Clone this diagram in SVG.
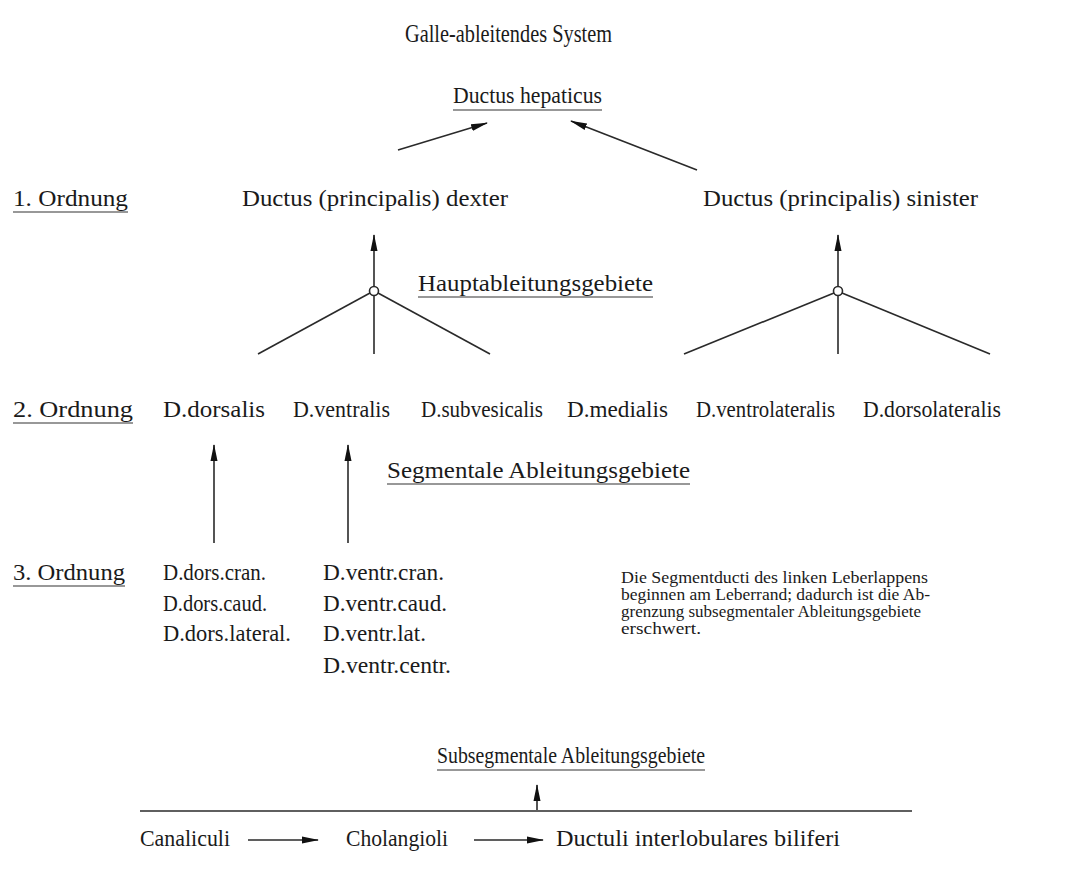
<svg xmlns="http://www.w3.org/2000/svg" width="1091" height="870" viewBox="0 0 1091 870">
<style>
text{font-family:"Liberation Serif","Times New Roman",serif;fill:#1a1a1a;font-size:24px}
.t{font-size:25px}
.s{font-size:23px}
.p{font-size:17.5px}
.u{stroke:#333;stroke-width:1.2}
.c{stroke:#2a2a2a;stroke-width:1.6;fill:none}
</style>
<defs>
<marker id="ah" markerWidth="17" markerHeight="9" refX="16" refY="4.5" orient="auto" markerUnits="userSpaceOnUse">
<path d="M0,1 L17,4.5 L0,8 z" fill="#111"/>
</marker>
</defs>
<rect width="1091" height="870" fill="#fff"/>
<g id="title"><text class="t" x="405" y="42" textLength="207" lengthAdjust="spacingAndGlyphs">Galle-ableitendes System</text></g>
<g id="hepaticus"><text x="453" y="103" textLength="149" lengthAdjust="spacingAndGlyphs">Ductus hepaticus</text><line class="u" x1="453" y1="110" x2="602" y2="110"/></g>
<g id="ord1"><text x="13" y="206" textLength="115" lengthAdjust="spacingAndGlyphs">1. Ordnung</text><line class="u" x1="13" y1="212" x2="128" y2="212"/></g>
<g id="dexter"><text x="242" y="206" textLength="266" lengthAdjust="spacingAndGlyphs">Ductus (principalis) dexter</text></g>
<g id="sinister"><text x="703" y="206" textLength="275" lengthAdjust="spacingAndGlyphs">Ductus (principalis) sinister</text></g>
<g id="haupt"><text x="418" y="291" textLength="235" lengthAdjust="spacingAndGlyphs">Hauptableitungsgebiete</text><line class="u" x1="418" y1="297" x2="653" y2="297"/></g>
<g id="ord2"><text x="13" y="417" textLength="120" lengthAdjust="spacingAndGlyphs">2. Ordnung</text><line class="u" x1="13" y1="423" x2="133" y2="423"/></g>
<g id="dorsalis"><text x="163" y="417" textLength="102" lengthAdjust="spacingAndGlyphs">D.dorsalis</text></g>
<g id="ventralis"><text x="293" y="417" textLength="97" lengthAdjust="spacingAndGlyphs">D.ventralis</text></g>
<g id="subvesicalis"><text x="421" y="417" textLength="122" lengthAdjust="spacingAndGlyphs">D.subvesicalis</text></g>
<g id="medialis"><text x="567" y="417" textLength="101" lengthAdjust="spacingAndGlyphs">D.medialis</text></g>
<g id="ventrolateralis"><text x="696" y="417" textLength="139" lengthAdjust="spacingAndGlyphs">D.ventrolateralis</text></g>
<g id="dorsolateralis"><text x="863" y="417" textLength="138" lengthAdjust="spacingAndGlyphs">D.dorsolateralis</text></g>
<g id="segmental"><text x="387" y="478" textLength="303" lengthAdjust="spacingAndGlyphs">Segmentale Ableitungsgebiete</text><line class="u" x1="387" y1="484" x2="690" y2="484"/></g>
<g id="ord3"><text x="13" y="580" textLength="112" lengthAdjust="spacingAndGlyphs">3. Ordnung</text><line class="u" x1="13" y1="586" x2="125" y2="586"/></g>
<g id="dors3">
<text x="163" y="580" textLength="103" lengthAdjust="spacingAndGlyphs">D.dors.cran.</text>
<text x="163" y="611" textLength="104" lengthAdjust="spacingAndGlyphs">D.dors.caud.</text>
<text x="163" y="641" textLength="128" lengthAdjust="spacingAndGlyphs">D.dors.lateral.</text>
</g>
<g id="ventr3">
<text x="323" y="580" textLength="121" lengthAdjust="spacingAndGlyphs">D.ventr.cran.</text>
<text x="323" y="611" textLength="124" lengthAdjust="spacingAndGlyphs">D.ventr.caud.</text>
<text x="323" y="641" textLength="103" lengthAdjust="spacingAndGlyphs">D.ventr.lat.</text>
<text x="323" y="673" textLength="128" lengthAdjust="spacingAndGlyphs">D.ventr.centr.</text>
</g>
<g id="note">
<text class="p" x="621" y="583" textLength="307" lengthAdjust="spacingAndGlyphs">Die Segmentducti des linken Leberlappens</text>
<text class="p" x="621" y="600" textLength="309" lengthAdjust="spacingAndGlyphs">beginnen am Leberrand; dadurch ist die Ab-</text>
<text class="p" x="621" y="617" textLength="300" lengthAdjust="spacingAndGlyphs">grenzung subsegmentaler Ableitungsgebiete</text>
<text class="p" x="621" y="634" textLength="80" lengthAdjust="spacingAndGlyphs">erschwert.</text>
</g>
<g id="subsegmental"><text class="s" x="437" y="763" textLength="268" lengthAdjust="spacingAndGlyphs">Subsegmentale Ableitungsgebiete</text><line class="u" x1="437" y1="770" x2="705" y2="770"/></g>
<g id="canaliculi"><text x="140" y="846" textLength="90" lengthAdjust="spacingAndGlyphs">Canaliculi</text></g>
<g id="cholangioli"><text x="346" y="846" textLength="102" lengthAdjust="spacingAndGlyphs">Cholangioli</text></g>
<g id="ductuli"><text x="556" y="846" textLength="284" lengthAdjust="spacingAndGlyphs">Ductuli interlobulares biliferi</text></g>
<g id="junctions">
<circle cx="374" cy="291" r="4.5" fill="#fff" stroke="#2a2a2a" stroke-width="1.6"/>
<circle cx="838" cy="291" r="4.5" fill="#fff" stroke="#2a2a2a" stroke-width="1.6"/>
</g>
<g id="connectors">
<line class="c" x1="398" y1="150" x2="487" y2="123" marker-end="url(#ah)"/>
<line class="c" x1="697" y1="170" x2="571" y2="121" marker-end="url(#ah)"/>
<line class="c" x1="374" y1="286" x2="374" y2="235" marker-end="url(#ah)"/>
<line class="c" x1="838" y1="286" x2="838" y2="235" marker-end="url(#ah)"/>
<line class="c" x1="370" y1="293" x2="258" y2="354"/>
<line class="c" x1="374" y1="296" x2="374" y2="354"/>
<line class="c" x1="378" y1="293" x2="490" y2="354"/>
<line class="c" x1="834" y1="293" x2="684" y2="354"/>
<line class="c" x1="838" y1="296" x2="838" y2="354"/>
<line class="c" x1="842" y1="293" x2="990" y2="354"/>
<line class="c" x1="214" y1="543" x2="214" y2="445" marker-end="url(#ah)"/>
<line class="c" x1="348" y1="543" x2="348" y2="445" marker-end="url(#ah)"/>
<line class="c" x1="140" y1="811" x2="912" y2="811"/>
<line class="c" x1="537" y1="810" x2="537" y2="785" marker-end="url(#ah)"/>
<line class="c" x1="248" y1="840" x2="318" y2="840" marker-end="url(#ah)"/>
<line class="c" x1="474" y1="840" x2="543" y2="840" marker-end="url(#ah)"/>
</g>
</svg>
